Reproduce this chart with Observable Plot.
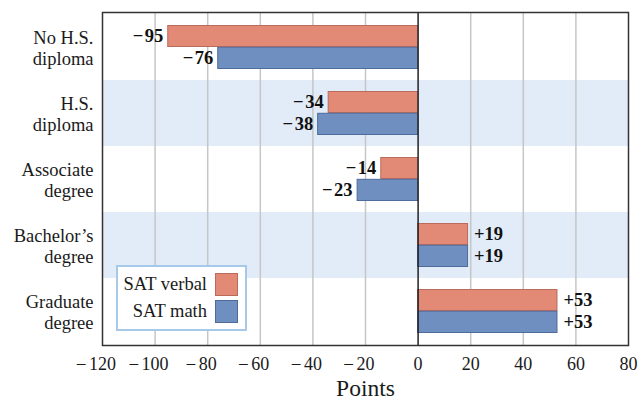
<!DOCTYPE html>
<html>
<head>
<meta charset="utf-8">
<script src="https://cdn.jsdelivr.net/npm/d3@7"></script>
<script src="https://cdn.jsdelivr.net/npm/@observablehq/plot@0.6"></script>
<style>
  html, body { margin: 0; padding: 0; background: #fff; }
  #wrap { position: relative; width: 638px; height: 404px; font-family: "Liberation Serif", "Times New Roman", serif; }
  #legend { position: absolute; left: 116px; top: 265px; width: 127px; height: 62px; border: 2px solid #a6c9ea; background: #fff; }
  #legend .row { position: absolute; left: 0; width: 127px; height: 23px; }
  #legend .lab { position: absolute; right: 38px; top: 0; font-size: 18.5px; line-height: 23px; color: #1a1a1a; white-space: nowrap; }
  #legend .sw { position: absolute; left: 97px; top: 0; width: 21px; height: 21px; border: 1px solid; }
</style>
</head>
<body>
<div id="wrap"></div>
<script>
const categories = ["No H.S.\ndiploma", "H.S.\ndiploma", "Associate\ndegree", "Bachelor\u2019s\ndegree", "Graduate\ndegree"];
const verbal = [-95, -34, -14, 19, 53];
const math = [-76, -38, -23, 19, 53];
const xTicks = [-120, -100, -80, -60, -40, -20, 0, 20, 40, 60, 80];
const shaded = [categories[1], categories[3]];
const seriesNames = ["SAT verbal", "SAT math"];

const verbalFill = "#e38a77", verbalStroke = "#b96b5c";
const mathFill = "#6f8fc0", mathStroke = "#4d6b9b";

const vData = categories.map((c, i) => ({cat: c, value: verbal[i]}));
const mData = categories.map((c, i) => ({cat: c, value: math[i]}));
const fmt = d => (d.value > 0 ? "+" : "\u2212\u200a") + Math.abs(d.value);

const font = "'Liberation Serif', 'Times New Roman', serif";
const ink = "#1a1a1a";

const chart = Plot.plot({
  width: 638,
  height: 404,
  marginLeft: 102,
  marginRight: 10,
  marginTop: 12,
  marginBottom: 59,
  style: {fontFamily: font, fontSize: "18px", color: ink, background: "transparent"},
  x: {domain: [-120, 80], axis: null},
  y: {domain: categories, padding: 0, axis: null},
  marks: [
    Plot.barX(shaded, {x1: -120, x2: 80, y: d => d, fill: "#e1ecf8"}),
    Plot.ruleX(xTicks.filter(d => d !== 0 && d !== -120 && d !== 80), {stroke: "#c6c6c6", strokeWidth: 1.5}),
    Plot.barX(vData, {x: "value", y: "cat", fill: verbalFill, stroke: verbalStroke, strokeWidth: 1, insetTop: 11.5, insetBottom: 33.5}),
    Plot.barX(mData, {x: "value", y: "cat", fill: mathFill, stroke: mathStroke, strokeWidth: 1, insetTop: 33.3, insetBottom: 11.5}),
    Plot.ruleX([0], {stroke: "#222", strokeWidth: 1.5}),
    Plot.frame({stroke: "#333", strokeWidth: 1.5}),
    // value labels
    Plot.text(vData, {filter: d => d.value < 0, x: "value", y: "cat", text: fmt, dy: -11, dx: -5, textAnchor: "end", fontWeight: "bold", fontSize: 18.5, fill: "#111"}),
    Plot.text(vData, {filter: d => d.value > 0, x: "value", y: "cat", text: fmt, dy: -11, dx: 6, textAnchor: "start", fontWeight: "bold", fontSize: 18.5, fill: "#111"}),
    Plot.text(mData, {filter: d => d.value < 0, x: "value", y: "cat", text: fmt, dy: 11, dx: -5, textAnchor: "end", fontWeight: "bold", fontSize: 18.5, fill: "#111"}),
    Plot.text(mData, {filter: d => d.value > 0, x: "value", y: "cat", text: fmt, dy: 11, dx: 6, textAnchor: "start", fontWeight: "bold", fontSize: 18.5, fill: "#111"}),
    // y category labels
    Plot.text(categories, {x: -120, y: d => d, text: d => d, dx: -9, textAnchor: "end", lineHeight: 1.18, fontSize: 18.5, fill: ink}),
    // x tick labels (digits centred on tick, minus hanging left)
    Plot.text(xTicks, {x: d => d, text: d => String(Math.abs(d)), frameAnchor: "bottom", lineAnchor: "top", dy: 12, fontSize: 18, fill: ink}),
    Plot.text(xTicks.filter(d => d <= -100), {x: d => d, text: () => "\u2212", frameAnchor: "bottom", lineAnchor: "top", dy: 12, dx: -16, textAnchor: "end", fontSize: 19, fill: ink}),
    Plot.text(xTicks.filter(d => d < 0 && d > -100), {x: d => d, text: () => "\u2212", frameAnchor: "bottom", lineAnchor: "top", dy: 12, dx: -11.5, textAnchor: "end", fontSize: 19, fill: ink}),
    // axis title
    Plot.text(["Points"], {frameAnchor: "bottom", dy: 50, fontSize: 23.5, fill: ink})
  ]
});

const wrap = document.getElementById("wrap");
wrap.appendChild(chart);

const legend = document.createElement("div");
legend.id = "legend";
[[seriesNames[0], verbalFill, verbalStroke, 6], [seriesNames[1], mathFill, mathStroke, 33]].forEach(([name, fill, stroke, top]) => {
  const row = document.createElement("div");
  row.className = "row";
  row.style.top = top + "px";
  const lab = document.createElement("span");
  lab.className = "lab";
  lab.textContent = name;
  const sw = document.createElement("span");
  sw.className = "sw";
  sw.style.background = fill;
  sw.style.borderColor = stroke;
  row.appendChild(lab);
  row.appendChild(sw);
  legend.appendChild(row);
});
wrap.appendChild(legend);
</script>
</body>
</html>
